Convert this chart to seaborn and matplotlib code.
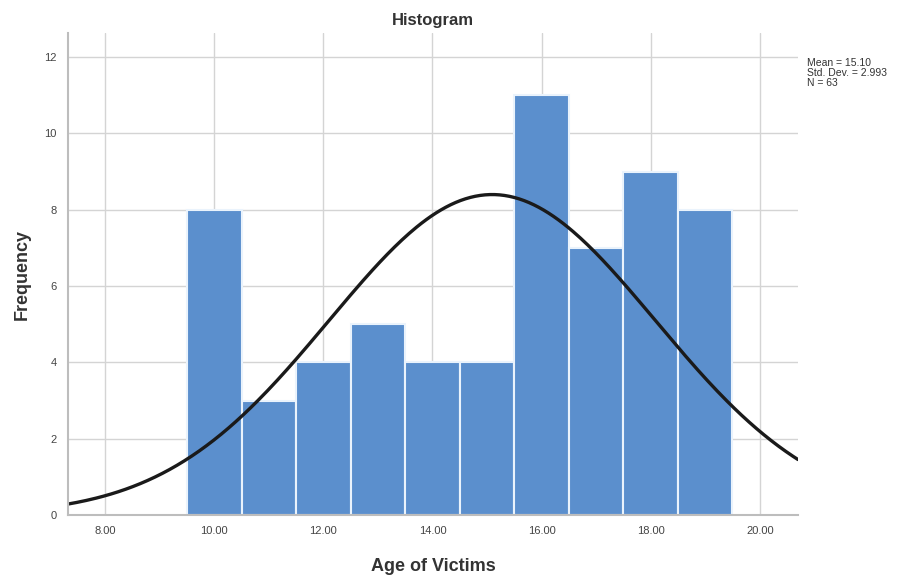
import numpy as np
import pandas as pd
import seaborn as sns
import matplotlib.pyplot as plt
from matplotlib.ticker import FormatStrFormatter

# ages (bin centres) and how many victims fall in each
ages = [10, 11, 12, 13, 14, 15, 16, 17, 18, 19]
counts = [8, 3, 4, 5, 4, 4, 11, 7, 9, 8]

x_ticks = [8, 10, 12, 14, 16, 18, 20]
y_ticks = [0, 2, 4, 6, 8, 10, 12]

sns.set_theme(style="whitegrid")
plt.rcParams['font.family'] = ['Liberation Sans', 'DejaVu Sans']

df = pd.DataFrame({"age": ages, "n": counts})

# summary stats for the normal curve (same as SPSS)
n_total = int(df["n"].sum())
mean = np.average(df["age"], weights=df["n"])
sd = np.sqrt(np.sum(df["n"] * (df["age"] - mean) ** 2) / (n_total - 1))

fig = plt.figure(figsize=(9.13, 5.75), dpi=100)
ax = fig.add_axes([0.0745, 0.1043, 0.7995, 0.8383])

sns.histplot(data=df, x="age", weights="n", bins=10, binrange=(9.5, 19.5),
             color="#5b8fcd", alpha=1, edgecolor="#eaf3fc", linewidth=1.5, ax=ax)

xs = np.linspace(7.3, 20.7, 300)
curve = pd.DataFrame({"x": xs,
                      "y": n_total / (sd * np.sqrt(2 * np.pi)) * np.exp(-0.5 * ((xs - mean) / sd) ** 2)})
sns.lineplot(data=curve, x="x", y="y", color="#1a1a1a", linewidth=2.4, ax=ax)

ax.set_xlim(7.32, 20.7)
ax.set_ylim(0, 12.63)
ax.set_xticks(x_ticks)
ax.set_yticks(y_ticks)
ax.xaxis.set_major_formatter(FormatStrFormatter("%.2f"))
ax.tick_params(labelsize=8, colors="#444444", length=0, pad=8)
ax.grid(True, color="#d4d4d4", linewidth=1)
ax.set_axisbelow(True)
for s in ["top", "right"]:
    ax.spines[s].set_visible(False)
for s in ["left", "bottom"]:
    ax.spines[s].set_color("#bdbdbd")
    ax.spines[s].set_linewidth(1.5)

ax.set_xlabel("Age of Victims", fontsize=13, fontweight="bold", color="#333333", labelpad=16)
ax.set_ylabel("Frequency", fontsize=13, fontweight="bold", color="#333333", labelpad=10)
ax.set_title("Histogram", fontsize=12, fontweight="bold", color="#333333", pad=6)

fig.text(0.884, 0.9, f"Mean = {mean:.2f}\nStd. Dev. = {sd:.3f}\nN = {n_total}",
         fontsize=7.5, color="#333333", va="top", ha="left", linespacing=1.0)

fig.savefig("out.png", dpi=100)
